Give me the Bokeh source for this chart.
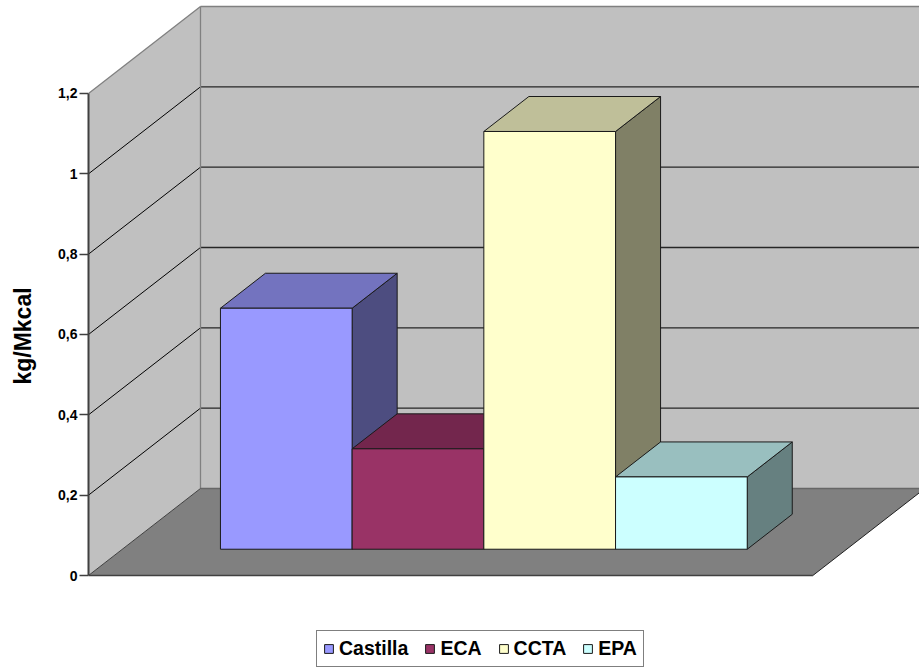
from bokeh.plotting import figure
from bokeh.models import Range1d, FixedTicker, Legend, LegendItem
from bokeh.embed import file_html
from bokeh.resources import INLINE

# ---- data ----
categories = ["Castilla", "ECA", "CCTA", "EPA"]
values = [0.60, 0.25, 1.04, 0.18]
front_colors = ["#9999FF", "#993366", "#FFFFCC", "#CCFFFF"]
top_colors = ["#7373BF", "#73264D", "#BFBF99", "#99BFBF"]
side_colors = ["#4D4D80", "#4D1A33", "#808066", "#668080"]
y_ticks = [0, 0.2, 0.4, 0.6, 0.8, 1.0, 1.2]
y_tick_labels = ["0", "0,2", "0,4", "0,6", "0,8", "1", "1,2"]
y_label = "kg/Mkcal"

# ---- 3D box geometry (data units) ----
FLOOR_W = 5.5          # floor width in bar widths
BAR_X0 = 0.745         # left edge of first bar at the front of the floor
DX, DY = 0.8504, 0.2166  # oblique offset of the full depth (x units, value units)
D0, D1 = 0.302, 0.704    # depth span occupied by the bars
Y_MAX = y_ticks[-1]


def proj(x, y, d):
    """Oblique projection of a point at depth fraction d."""
    return x + DX * d, y + DY * d


def poly(points):
    xs, ys = zip(*[proj(*pt) for pt in points])
    return list(xs), list(ys)


def seg(p, a, b, **kw):
    (x0, y0), (x1, y1) = proj(*a), proj(*b)
    p.segment(x0=[x0], y0=[y0], x1=[x1], y1=[y1], **kw)


SX, SY = 131.7, 401.67   # pixels per data unit
W, H, LEFT, BASE = 919, 671, 88, 575

p = figure(width=W, height=H, output_backend="svg", toolbar_location=None,
           x_range=Range1d(0, (W - LEFT) / SX),
           y_range=Range1d(-(H - BASE) / SY, BASE / SY),
           x_axis_location=None, min_border_left=LEFT, min_border_right=0,
           min_border_top=0, min_border_bottom=0)
p.outline_line_color = None
p.xgrid.visible = False
p.ygrid.visible = False
p.background_fill_color = "white"
p.border_fill_color = "white"

WALL, FLOOR = "#C0C0C0", "#808080"

# walls and floor
bx, by = poly([(0, 0, 1), (FLOOR_W, 0, 1), (FLOOR_W, Y_MAX, 1), (0, Y_MAX, 1)])
p.patch(bx, by, fill_color=WALL, line_color=None)
lx, ly = poly([(0, 0, 0), (0, 0, 1), (0, Y_MAX, 1), (0, Y_MAX, 0)])
p.patch(lx, ly, fill_color=WALL, line_color=None)
fx, fy = poly([(0, 0, 0), (FLOOR_W, 0, 0), (FLOOR_W, 0, 1), (0, 0, 1)])
p.patch(fx, fy, fill_color=FLOOR, line_color=None)

# gridlines on back and side walls
for v in y_ticks[1:-1]:
    seg(p, (0, v, 1), (FLOOR_W, v, 1), line_color="#262626", line_width=1.3)
    seg(p, (0, v, 0), (0, v, 1), line_color="black", line_width=1)

# wall / floor edges
seg(p, (0, Y_MAX, 0), (0, Y_MAX, 1), line_color="#808080", line_width=1.3)
seg(p, (0, Y_MAX, 1), (FLOOR_W, Y_MAX, 1), line_color="#808080", line_width=1.3)
seg(p, (0, 0, 1), (0, Y_MAX, 1), line_color="#808080", line_width=1.3)
seg(p, (0, 0, 1), (FLOOR_W, 0, 1), line_color="#666666", line_width=1.3)
seg(p, (0, 0, 0), (0, 0, 1), line_color="#404040", line_width=1)
seg(p, (0, 0, 0), (FLOOR_W, 0, 0), line_color="#404040", line_width=1.5)
seg(p, (FLOOR_W, 0, 0), (FLOOR_W, 0, 1), line_color="#202020", line_width=1)

# bars, drawn left to right so nearer faces overlap correctly
items = []
for i, (name, v) in enumerate(zip(categories, values)):
    xl, xr = BAR_X0 + i, BAR_X0 + i + 1
    sx, sy = poly([(xr, 0, D0), (xr, 0, D1), (xr, v, D1), (xr, v, D0)])
    tx, ty = poly([(xl, v, D0), (xr, v, D0), (xr, v, D1), (xl, v, D1)])
    p.patches([sx, tx], [sy, ty], fill_color=[side_colors[i], top_colors[i]],
              line_color="#1a1a1a", line_width=1)
    (qx0, qy0), (qx1, qy1) = proj(xl, 0, D0), proj(xr, v, D0)
    r = p.quad(left=[qx0], right=[qx1], bottom=[qy0], top=[qy1],
               fill_color=front_colors[i], line_color="#1a1a1a", line_width=1)
    items.append(LegendItem(label=name, renderers=[r]))

# value axis
ax = p.yaxis[0]
ax.ticker = FixedTicker(ticks=y_ticks)
ax.major_label_overrides = {t: s for t, s in zip(y_ticks, y_tick_labels)}
ax.bounds = (0, Y_MAX)
ax.axis_line_color = "#404040"
ax.axis_line_width = 2
ax.major_tick_line_color = "#404040"
ax.major_tick_line_width = 1.5
ax.major_tick_out = 9
ax.major_tick_in = 0
ax.minor_tick_line_color = None
ax.major_label_standoff = 2
ax.major_label_text_font = "Liberation Sans"
ax.major_label_text_font_style = "bold"
ax.major_label_text_font_size = "14px"
ax.major_label_text_color = "black"
ax.axis_label = y_label
ax.axis_label_text_font = "Liberation Sans"
ax.axis_label_text_font_style = "bold"
ax.axis_label_text_font_size = "23px"
ax.axis_label_text_color = "black"
ax.axis_label_standoff = 19

legend = Legend(items=items, orientation="horizontal", location=(228, 4),
                margin=0, padding=6, spacing=16, label_standoff=5,
                glyph_width=11, glyph_height=11,
                label_text_font="Liberation Sans", label_text_font_style="bold",
                label_text_font_size="19.5px", label_text_color="black",
                border_line_color="black", border_line_width=1,
                background_fill_color="white", background_fill_alpha=1)
p.add_layout(legend)

open("out.html", "w").write(file_html(p, INLINE))
